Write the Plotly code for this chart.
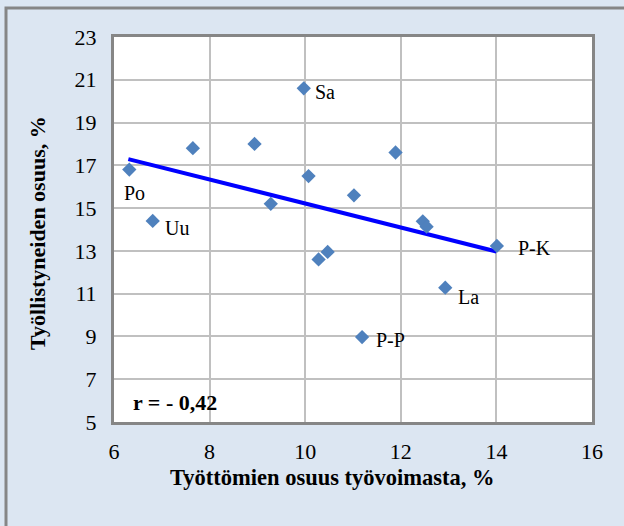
import plotly.graph_objects as go

# data
unemp = [6.32, 6.81, 7.65, 8.94, 9.97, 10.07, 9.28, 10.28, 10.47, 11.02, 11.89, 12.46, 12.54, 14.01, 12.93, 11.19]
employed = [16.8, 14.4, 17.8, 18.0, 20.6, 16.5, 15.2, 12.6, 12.95, 15.6, 17.6, 14.38, 14.13, 13.23, 11.28, 8.97]
labels = ["Po", "Uu", "", "", "Sa", "", "", "", "", "", "", "", "", "P-K", "La", "P-P"]
trend_x = [6.30, 14.0]
trend_y = [17.29, 12.97]
x_ticks = [6, 8, 10, 12, 14, 16]
y_ticks = [5, 7, 9, 11, 13, 15, 17, 19, 21, 23]
x_title = "Työttömien osuus työvoimasta, %"
y_title = "Työllistyneiden osuus, %"
r_text = "r = - 0,42"

W, H = 624, 526
L, R, T, B = 114, 32, 37, 104
pw, ph = W - L - R, H - T - B

def px2paper_x(p):
    return (p - L) / pw

def px2paper_y(p):
    return (H - B - p) / ph

font_family = "Liberation Serif"

fig = go.Figure()
fig.add_trace(go.Scatter(x=trend_x, y=trend_y, mode="lines",
                         line=dict(color="#0000ff", width=4), hoverinfo="skip"))
fig.add_trace(go.Scatter(x=unemp, y=employed, mode="markers",
                         marker=dict(symbol="diamond", size=11, color="#4f81bd",
                                     line=dict(width=0))))

label_style = {
    "Po": dict(xshift=-7, yshift=-23, xanchor="left"),
    "Uu": dict(xshift=10, yshift=-7, xanchor="left"),
    "Sa": dict(xshift=9, yshift=-4, xanchor="left"),
    "P-K": dict(xshift=19, yshift=-2, xanchor="left"),
    "La": dict(xshift=11, yshift=-9, xanchor="left"),
    "P-P": dict(xshift=12, yshift=-3, xanchor="left"),
}
for xv, yv, lab in zip(unemp, employed, labels):
    if lab:
        st = label_style[lab]
        fig.add_annotation(x=xv, y=yv, text=lab, showarrow=False,
                           xanchor=st["xanchor"], yanchor="middle",
                           xshift=st["xshift"], yshift=st["yshift"],
                           font=dict(family=font_family, size=20, color="black"))

fig.add_annotation(x=6.36, y=5.93, text="<b>" + r_text + "</b>", showarrow=False,
                   xanchor="left", yanchor="middle",
                   font=dict(family=font_family, size=22, color="black"))

# axis titles
fig.add_annotation(xref="paper", yref="paper", x=px2paper_x(332), y=px2paper_y(477),
                   text="<b>" + x_title + "</b>", showarrow=False,
                   xanchor="center", yanchor="middle",
                   font=dict(family=font_family, size=22.5, color="black"))
fig.add_annotation(xref="paper", yref="paper", x=px2paper_x(38), y=px2paper_y(233),
                   text="<b>" + y_title + "</b>", showarrow=False, textangle=-90,
                   xanchor="center", yanchor="middle",
                   font=dict(family=font_family, size=22, color="black"))

# outer chart border
fig.add_shape(type="rect", xref="paper", yref="paper",
              x0=px2paper_x(6), x1=px2paper_x(640),
              y0=px2paper_y(540), y1=px2paper_y(8),
              line=dict(color="#868686", width=3), fillcolor="rgba(0,0,0,0)", layer="below")

fig.update_layout(
    width=W, height=H,
    margin=dict(l=L, r=R, t=T, b=B, pad=0, autoexpand=False),
    paper_bgcolor="#dce6f2",
    plot_bgcolor="white",
    showlegend=False,
    font=dict(family=font_family, size=22, color="black"),
    xaxis=dict(range=[6, 16], tickvals=x_ticks, showgrid=True, gridcolor="#c0c0c0", gridwidth=2,
               showline=True, linecolor="#868686", linewidth=3, mirror=True, zeroline=False,
               ticks="", ticklabelstandoff=8, automargin=False),
    yaxis=dict(range=[5, 23], tickvals=y_ticks, showgrid=True, gridcolor="#c0c0c0", gridwidth=2,
               showline=True, linecolor="#868686", linewidth=3, mirror=True, zeroline=False,
               ticks="", ticklabelstandoff=10, automargin=False),
)

fig.write_html("out.html", config={"displayModeBar": False},
               post_script="document.body.style.margin='0';document.body.style.background='#dce6f2';")
